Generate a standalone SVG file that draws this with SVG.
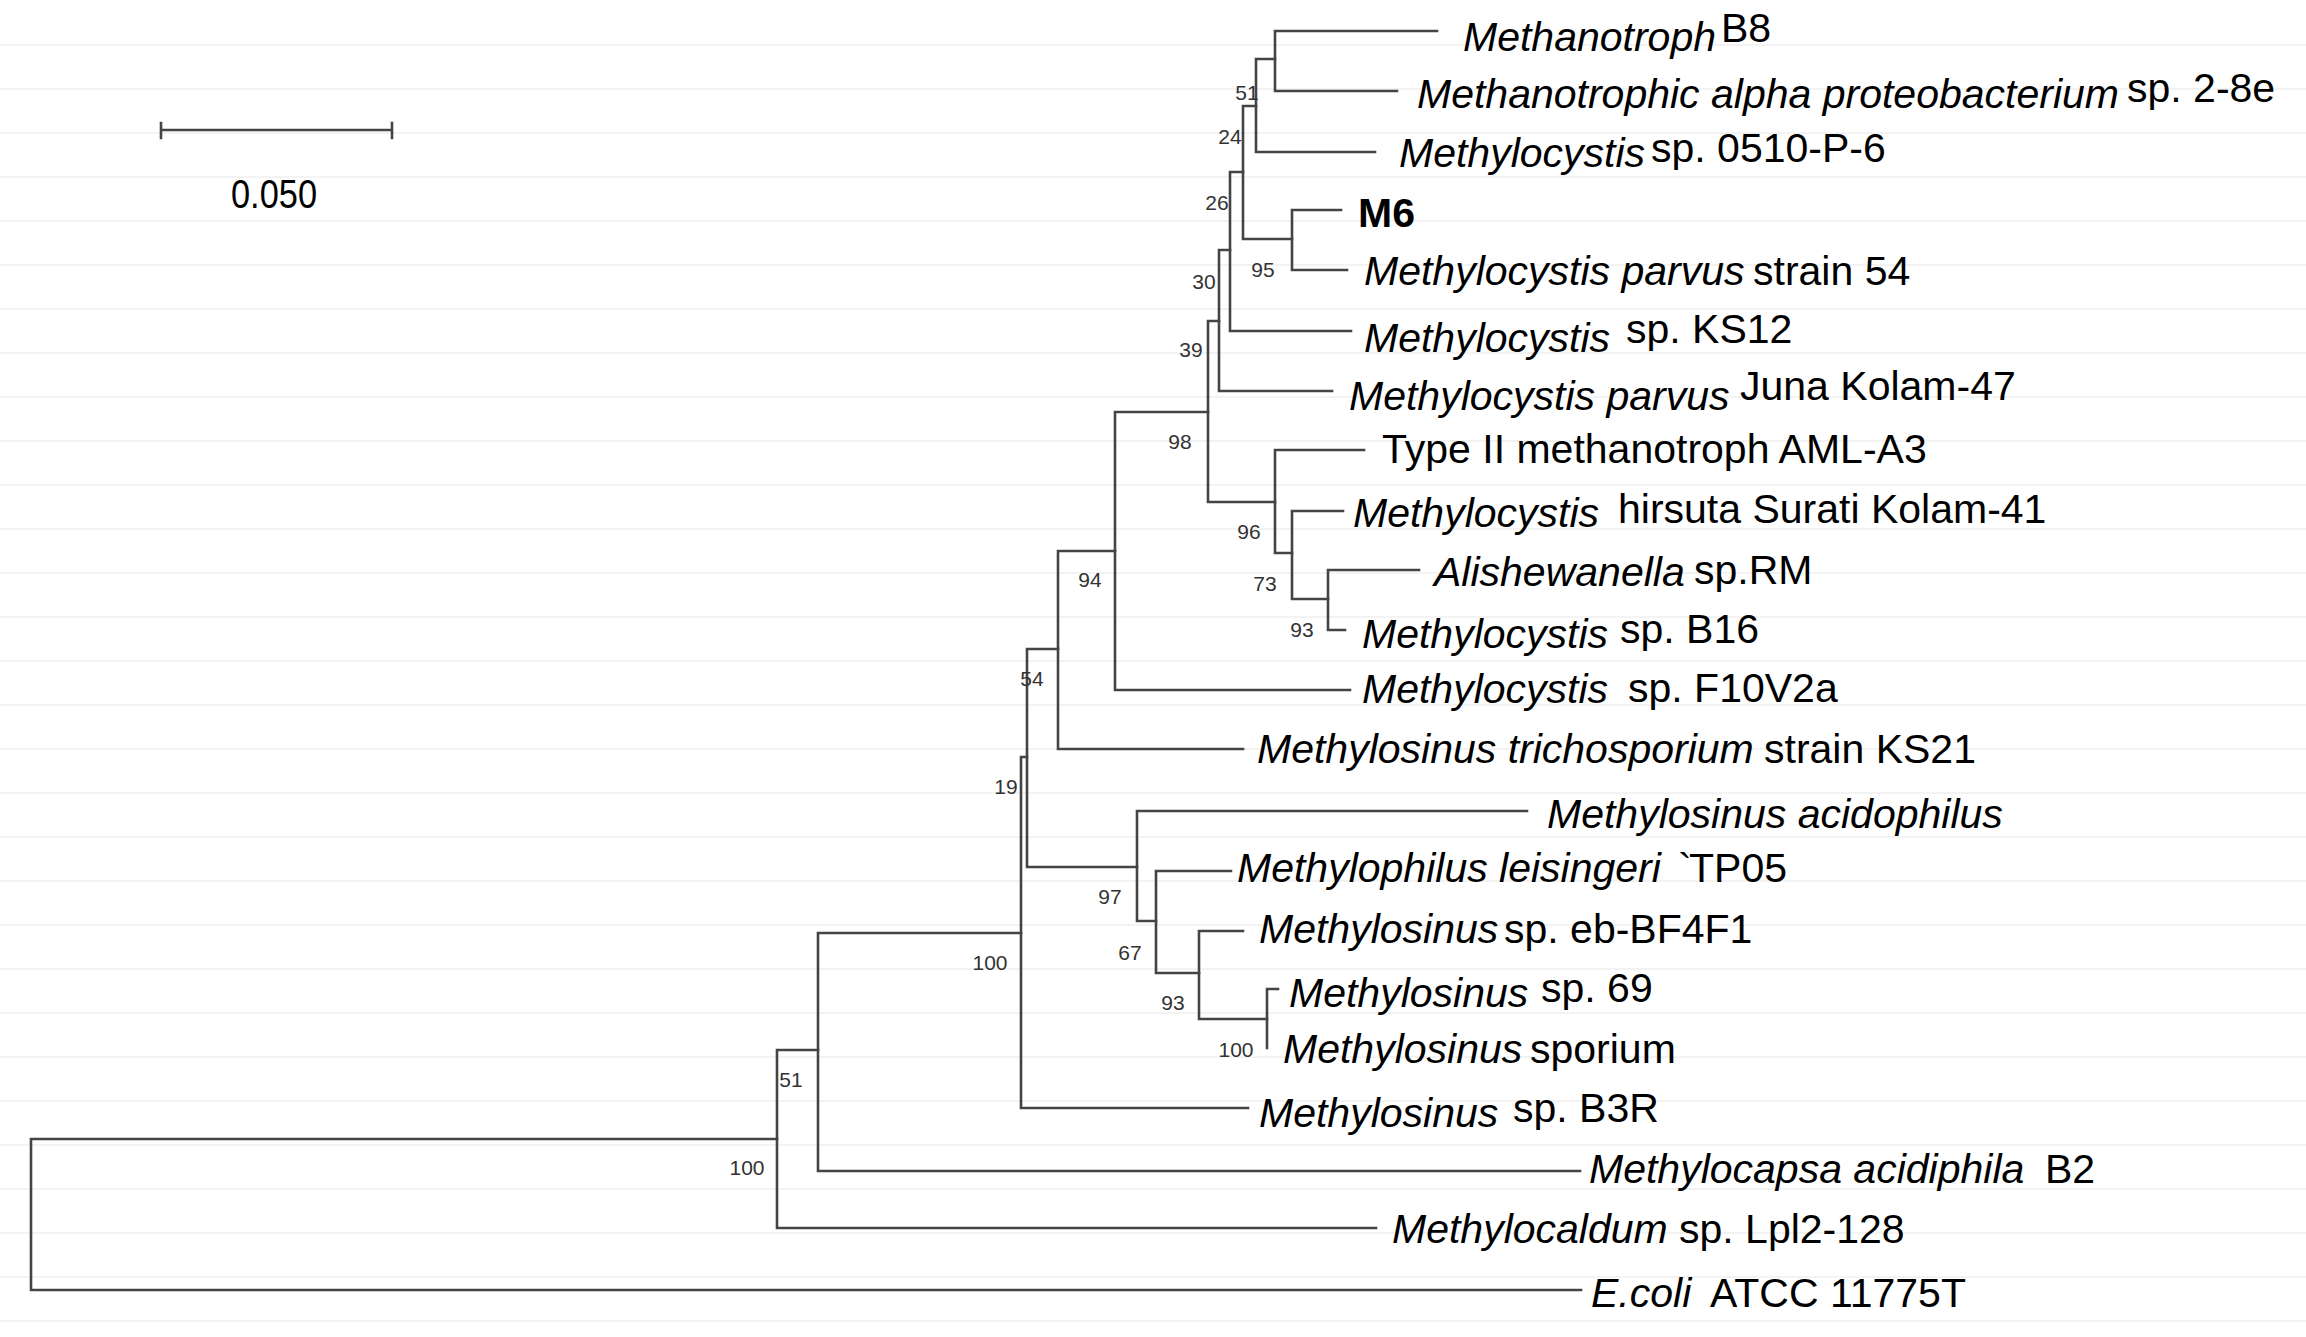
<svg xmlns="http://www.w3.org/2000/svg" width="2306" height="1337" viewBox="0 0 2306 1337">
<style>
.grid{stroke:#efefef;stroke-width:1.3}
.br{stroke:#444;stroke-width:2.6;fill:none;stroke-linecap:square}
.lf{font-family:"Liberation Sans",Arial,sans-serif;font-size:41px;fill:#000}
.i{font-style:italic}
.b{font-weight:bold}
.bs{font-family:"Liberation Sans",Arial,sans-serif;font-size:21px;fill:#333;text-anchor:middle}
</style>
<rect width="2306" height="1337" fill="#fff"/>
<g id="gridlines">
<path class="grid" d="M0 45H2306M0 89H2306M0 133H2306M0 177H2306M0 221H2306M0 265H2306M0 309H2306M0 353H2306M0 397H2306M0 441H2306M0 485H2306M0 529H2306M0 573H2306M0 617H2306M0 661H2306M0 705H2306M0 749H2306M0 793H2306M0 837H2306M0 881H2306M0 925H2306M0 969H2306M0 1013H2306M0 1057H2306M0 1101H2306M0 1145H2306M0 1189H2306M0 1233H2306M0 1277H2306M0 1321H2306"/>
</g>
<g id="scalebar">
<path class="br" d="M161 130H392M161 123V138M392 123V138"/>
<text class="lf" x="274" y="208" text-anchor="middle" font-size="38" textLength="86" lengthAdjust="spacingAndGlyphs">0.050</text>
</g>
<g id="connectors">
<path class="br" d="M31 1139V1290M31 1139H777M31 1290H1581"/>
<path class="br" d="M777 1050V1228M777 1050H818M777 1228H1376"/>
<path class="br" d="M818 933V1171M818 933H1021M818 1171H1580"/>
<path class="br" d="M1021 757V1108M1021 757H1027M1021 1108H1248"/>
<path class="br" d="M1027 649V867M1027 649H1058M1027 867H1137"/>
<path class="br" d="M1058 551V749M1058 551H1115M1058 749H1243"/>
<path class="br" d="M1115 412V690M1115 412H1208M1115 690H1350"/>
<path class="br" d="M1208 321V502M1208 321H1219M1208 502H1275"/>
<path class="br" d="M1219 250V391M1219 250H1230M1219 391H1332"/>
<path class="br" d="M1230 172V331M1230 172H1243M1230 331H1351"/>
<path class="br" d="M1243 106V239M1243 106H1256M1243 239H1292"/>
<path class="br" d="M1256 59V152M1256 59H1275M1256 152H1375"/>
<path class="br" d="M1275 31V91M1275 31H1437M1275 91H1397"/>
<path class="br" d="M1292 210V270M1292 210H1341M1292 270H1347"/>
<path class="br" d="M1275 450V553M1275 450H1364M1275 553H1292"/>
<path class="br" d="M1292 511V599M1292 511H1343M1292 599H1328"/>
<path class="br" d="M1328 570V630M1328 570H1419M1328 630H1345"/>
<path class="br" d="M1137 811V921M1137 811H1527M1137 921H1156"/>
<path class="br" d="M1156 871V973M1156 871H1231M1156 973H1199"/>
<path class="br" d="M1199 931V1019M1199 931H1243M1199 1019H1267"/>
<path class="br" d="M1267 989V1048M1267 989H1278"/>
</g>
<g id="bootstrap">
<text class="bs" x="1247" y="100">51</text>
<text class="bs" x="1230" y="144">24</text>
<text class="bs" x="1217" y="210">26</text>
<text class="bs" x="1263" y="277">95</text>
<text class="bs" x="1204" y="289">30</text>
<text class="bs" x="1191" y="357">39</text>
<text class="bs" x="1180" y="449">98</text>
<text class="bs" x="1249" y="539">96</text>
<text class="bs" x="1265" y="591">73</text>
<text class="bs" x="1302" y="637">93</text>
<text class="bs" x="1090" y="587">94</text>
<text class="bs" x="1032" y="686">54</text>
<text class="bs" x="1006" y="794">19</text>
<text class="bs" x="1110" y="904">97</text>
<text class="bs" x="1130" y="960">67</text>
<text class="bs" x="1173" y="1010">93</text>
<text class="bs" x="1236" y="1057">100</text>
<text class="bs" x="990" y="970">100</text>
<text class="bs" x="791" y="1087">51</text>
<text class="bs" x="747" y="1175">100</text>
</g>
<g id="leaf-methanotroph-b8"><text class="lf"><tspan class="i" x="1463" y="51">Methanotroph</tspan><tspan x="1721" y="42">B8</tspan></text></g>
<g id="leaf-alpha"><text class="lf"><tspan class="i" x="1417" y="108">Methanotrophic alpha proteobacterium</tspan><tspan x="2127" y="102">sp. 2-8e</tspan></text></g>
<g id="leaf-0510"><text class="lf"><tspan class="i" x="1399" y="167">Methylocystis</tspan><tspan x="1651" y="162">sp. 0510-P-6</tspan></text></g>
<g id="leaf-m6"><text class="lf b" x="1358" y="227">M6</text></g>
<g id="leaf-parvus54"><text class="lf"><tspan class="i" x="1364" y="285">Methylocystis parvus</tspan><tspan x="1753" y="285">strain 54</tspan></text></g>
<g id="leaf-ks12"><text class="lf"><tspan class="i" x="1364" y="352">Methylocystis</tspan><tspan x="1626" y="343">sp. KS12</tspan></text></g>
<g id="leaf-juna"><text class="lf"><tspan class="i" x="1349" y="410">Methylocystis parvus</tspan><tspan x="1740" y="400">Juna Kolam-47</tspan></text></g>
<g id="leaf-typeii"><text class="lf" x="1382" y="463">Type II methanotroph AML-A3</text></g>
<g id="leaf-hirsuta"><text class="lf"><tspan class="i" x="1353" y="527">Methylocystis</tspan><tspan x="1618" y="523">hirsuta Surati Kolam-41</tspan></text></g>
<g id="leaf-alishewanella"><text class="lf"><tspan class="i" x="1434" y="586">Alishewanella</tspan><tspan x="1694" y="584">sp.RM</tspan></text></g>
<g id="leaf-b16"><text class="lf"><tspan class="i" x="1362" y="648">Methylocystis</tspan><tspan x="1620" y="643">sp. B16</tspan></text></g>
<g id="leaf-f10v2a"><text class="lf"><tspan class="i" x="1362" y="703">Methylocystis</tspan><tspan x="1628" y="702">sp. F10V2a</tspan></text></g>
<g id="leaf-ks21"><text class="lf"><tspan class="i" x="1257" y="763">Methylosinus trichosporium</tspan><tspan x="1764" y="763">strain KS21</tspan></text></g>
<g id="leaf-acidophilus"><text class="lf i" x="1547" y="828">Methylosinus acidophilus</text></g>
<g id="leaf-leisingeri"><text class="lf"><tspan class="i" x="1237" y="882">Methylophilus leisingeri</tspan><tspan x="1678" y="882">`</tspan><tspan x="1689" y="882">TP05</tspan></text></g>
<g id="leaf-ebbf4f1"><text class="lf"><tspan class="i" x="1259" y="943">Methylosinus</tspan><tspan x="1504" y="943">sp. eb-BF4F1</tspan></text></g>
<g id="leaf-sp69"><text class="lf"><tspan class="i" x="1289" y="1007">Methylosinus</tspan><tspan x="1541" y="1002">sp. 69</tspan></text></g>
<g id="leaf-sporium"><text class="lf"><tspan class="i" x="1283" y="1063">Methylosinus</tspan><tspan x="1530" y="1063">sporium</tspan></text></g>
<g id="leaf-b3r"><text class="lf"><tspan class="i" x="1259" y="1127">Methylosinus</tspan><tspan x="1513" y="1122">sp. B3R</tspan></text></g>
<g id="leaf-methylocapsa"><text class="lf"><tspan class="i" x="1589" y="1183">Methylocapsa acidiphila</tspan><tspan x="2045" y="1183">B2</tspan></text></g>
<g id="leaf-methylocaldum"><text class="lf"><tspan class="i" x="1392" y="1243">Methylocaldum</tspan><tspan x="1679" y="1243">sp. Lpl2-128</tspan></text></g>
<g id="leaf-ecoli"><text class="lf"><tspan class="i" x="1591" y="1307">E.coli</tspan><tspan x="1710" y="1307">ATCC 11775T</tspan></text></g>
</svg>
